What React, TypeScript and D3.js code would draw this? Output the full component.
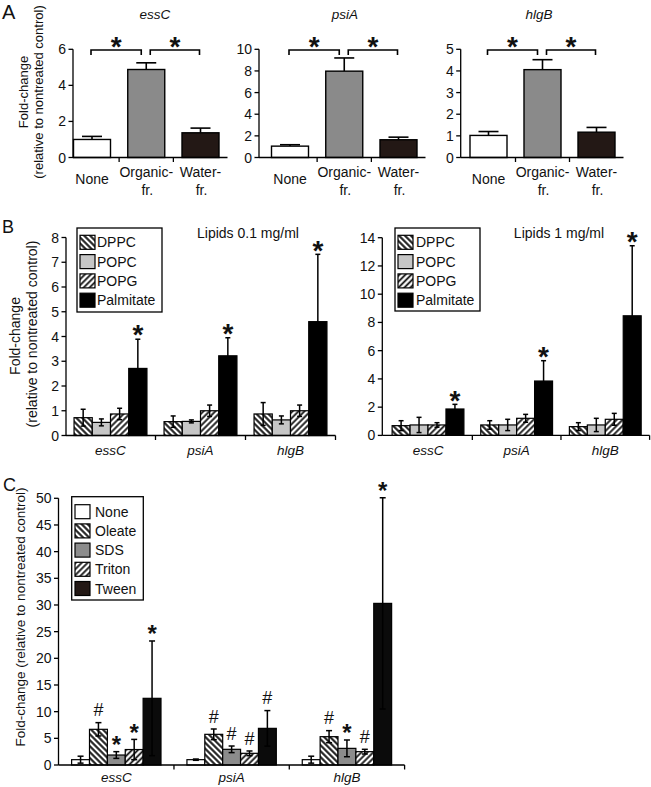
import React from 'react';
import * as d3 from 'd3';

const FONT = "'Liberation Sans', Arial, Helvetica, sans-serif";

// ---------------- Panel A data ----------------
const aCategories = ['None', 'Organic-fr.', 'Water-fr.'];
const aCategoryLines = [['None'], ['Organic-', 'fr.'], ['Water-', 'fr.']];
const aGenes = ['essC', 'psiA', 'hlgB'];
const aEssC = [1.0, 4.88, 1.37];
const aEssCErr = [0.17, 0.37, 0.26];
const aPsiA = [1.05, 7.98, 1.64];
const aPsiAErr = [0.13, 1.22, 0.24];
const aHlgB = [1.02, 4.06, 1.17];
const aHlgBErr = [0.18, 0.46, 0.22];
const aYMax = [6, 10, 5];
const aTickStep = [2, 2, 1];
const aSigMarks = ['*', '*'];

// ---------------- Panel B data ----------------
const bGenes = ['essC', 'psiA', 'hlgB'];
const bLipids = ['DPPC', 'POPC', 'POPG', 'Palmitate'];
// rows: genes; columns: DPPC, POPC, POPG, Palmitate
const bLowMeans = [
  [0.72, 0.53, 0.87, 2.71],
  [0.56, 0.57, 1.0, 3.22],
  [0.87, 0.63, 1.0, 4.6],
];
const bLowErrs = [
  [0.34, 0.14, 0.23, 1.18],
  [0.23, 0.06, 0.23, 0.73],
  [0.46, 0.16, 0.23, 2.72],
];
const bLowMarks = [
  ['', '', '', '*'],
  ['', '', '', '*'],
  ['', '', '', '*'],
];
const bHighMeans = [
  [0.69, 0.74, 0.74, 1.87],
  [0.74, 0.74, 1.21, 3.85],
  [0.62, 0.74, 1.14, 8.47],
];
const bHighErrs = [
  [0.35, 0.54, 0.16, 0.33],
  [0.3, 0.4, 0.28, 1.44],
  [0.28, 0.47, 0.42, 4.96],
];
const bHighMarks = [
  ['', '', '', '*'],
  ['', '', '', '*'],
  ['', '', '', '*'],
];
const bLowTitle = 'Lipids 0.1 mg/ml';
const bHighTitle = 'Lipids 1 mg/ml';
const bLowTicks = [0, 1, 2, 3, 4, 5, 6, 7, 8];
const bHighTicks = [0, 2, 4, 6, 8, 10, 12, 14];

// ---------------- Panel C data ----------------
const cGenes = ['essC', 'psiA', 'hlgB'];
const cTreatments = ['None', 'Oleate', 'SDS', 'Triton', 'Tween'];
// rows: genes; columns: None, Oleate, SDS, Triton, Tween
const cMeans = [
  [1.0, 6.69, 1.87, 2.9, 12.5],
  [1.0, 5.75, 2.94, 2.19, 6.87],
  [1.0, 5.31, 3.12, 2.5, 30.3],
];
const cErrs = [
  [0.65, 1.25, 0.63, 1.9, 10.75],
  [0.12, 1.0, 0.62, 0.44, 3.33],
  [0.65, 1.13, 1.57, 0.44, 19.8],
];
const cMarks = [
  ['', '#', '*', '*', '*'],
  ['', '#', '#', '#', '#'],
  ['', '#', '*', '#', '*'],
];
const cTicks = [0, 5, 10, 15, 20, 25, 30, 35, 40, 45, 50];

const yLabel1 = 'Fold-change';
const yLabel2 = '(relative to nontreated control)';

// ---------------- styles ----------------
const aFills = ['#ffffff', '#8a8a8a', '#231815'];
const bFills = ['url(#hatchBack)', '#c6c6c6', 'url(#hatchFwd)', '#000000'];
const cFills = ['#ffffff', 'url(#hatchBack)', '#8c8c8c', 'url(#hatchFwd)', '#0b0b0b'];
const cLegendFills = ['#ffffff', 'url(#hatchBack)', '#8c8c8c', 'url(#hatchFwd)', '#231815'];

function Mark({ x, y, text, star, hash }) {
  if (!text) return null;
  if (text === '*') {
    const fs = star;
    return (
      <text x={x} y={y + 0.58 * fs} textAnchor="middle" fontSize={fs} fontWeight="bold" fontFamily={FONT} fill="#111">
        *
      </text>
    );
  }
  const fs = hash;
  return (
    <text x={x} y={y + 0.35 * fs} textAnchor="middle" fontSize={fs} fontFamily={FONT} fill="#111">
      {text}
    </text>
  );
}

function YAxis({ x, y, ticks, fontSize = 14 }) {
  const [r0] = y.range();
  return (
    <g>
      <line x1={x} x2={x} y1={r0} y2={y(ticks[ticks.length - 1])} stroke="#000" strokeWidth={1.3} />
      {ticks.map((t) => (
        <g key={t}>
          <line x1={x - 4.5} x2={x} y1={y(t)} y2={y(t)} stroke="#000" strokeWidth={1.3} />
          <text x={x - 7} y={y(t)} dy="0.36em" textAnchor="end" fontSize={fontSize} fill="#111">
            {t}
          </text>
        </g>
      ))}
    </g>
  );
}

function PanelASub({ idx, values, errs, axisX, c0, c2, titleX }) {
  const yMax = aYMax[idx];
  const step = aTickStep[idx];
  const y = d3.scaleLinear().domain([0, yMax]).range([157.5, 49.3]);
  const x = d3.scalePoint().domain(aCategories).range([c0, c2]);
  const ticks = d3.range(0, yMax + step / 2, step);
  const bw = 37;
  const capW = 20;
  const xs = aCategories.map((c) => x(c));
  const axisEnd = xs[2] + 27;
  const brY = 50;
  const brackets = [
    [xs[0] - 1, xs[1] - 5],
    [xs[1] + 4, xs[2] - 1],
  ];
  return (
    <g>
      <text x={titleX} y={19} textAnchor="middle" fontSize={13.5} fontStyle="italic" fill="#111">
        {aGenes[idx]}
      </text>
      {aCategories.map((c, i) => {
        const cx = x(c);
        const top = y(values[i]);
        const et = y(values[i] + errs[i]);
        return (
          <g key={c}>
            <line x1={cx} x2={cx} y1={top} y2={et} stroke="#000" strokeWidth={1.6} />
            <line x1={cx - capW / 2} x2={cx + capW / 2} y1={et} y2={et} stroke="#000" strokeWidth={1.6} />
            <rect x={cx - bw / 2} y={top} width={bw} height={y(0) - top} fill={aFills[i]} stroke="#000" strokeWidth={1.4} />
          </g>
        );
      })}
      <line x1={axisX} x2={axisEnd} y1={y(0)} y2={y(0)} stroke="#000" strokeWidth={1.3} />
      {[0, 1].map((i) => {
        const tx = (xs[i] + xs[i + 1]) / 2;
        return <line key={i} x1={tx} x2={tx} y1={y(0)} y2={y(0) + 4.5} stroke="#000" strokeWidth={1.3} />;
      })}
      <YAxis x={axisX} y={y} ticks={ticks} />
      {aCategoryLines.map((lines, i) =>
        lines.length === 1 ? (
          <text key={i} x={xs[i]} y={184} textAnchor="middle" fontSize={14} fill="#111">
            {lines[0]}
          </text>
        ) : (
          <g key={i}>
            <text x={xs[i]} y={176.5} textAnchor="middle" fontSize={14} fill="#111">
              {lines[0]}
            </text>
            <text x={xs[i] + 1} y={195} textAnchor="middle" fontSize={14} fill="#111">
              {lines[1]}
            </text>
          </g>
        )
      )}
      {brackets.map(([a, b], i) => (
        <g key={i}>
          <path d={`M${a},${brY + 5}V${brY}H${b}V${brY + 5}`} fill="none" stroke="#000" strokeWidth={1.6} />
          <Mark x={(a + b) / 2} y={brY - 10} text={aSigMarks[i]} star={28} hash={18} />
        </g>
      ))}
    </g>
  );
}

function Legend({ x, y, w, h, items, fills, swX, textX, row0, rowStep, swW = 15, swH = 14 }) {
  return (
    <g>
      <rect x={x} y={y} width={w} height={h} fill="#fff" stroke="#000" strokeWidth={1.3} />
      {items.map((it, i) => {
        const cy = row0 + i * rowStep;
        return (
          <g key={it}>
            <rect x={swX} y={cy - swH / 2} width={swW} height={swH} fill={fills[i]} stroke="#000" strokeWidth={1.2} />
            <text x={textX} y={cy} dy="0.36em" fontSize={14} fill="#111">
              {it}
            </text>
          </g>
        );
      })}
    </g>
  );
}

function Grouped({ genes, series, means, errs, marks, fills, xRange, inner, outer, axisX, y0, yTopPx, yMax, ticks, capW, labelY, star, hash, markGap }) {
  const x0 = d3.scaleBand().domain(genes).range(xRange).paddingInner(inner).paddingOuter(outer);
  const x1 = d3.scaleBand().domain(series).range([0, x0.bandwidth()]);
  const y = d3.scaleLinear().domain([0, yMax]).range([y0, yTopPx]);
  const stepW = x0.step();
  const start = xRange[0];
  const end = xRange[1];
  return (
    <g>
      {genes.map((g, gi) => (
        <g key={g}>
          {series.map((s, si) => {
            const bx = x0(g) + x1(s);
            const bwid = x1.bandwidth();
            const cx = bx + bwid / 2;
            const v = means[gi][si];
            const e = errs[gi][si];
            const top = y(v);
            const et = y(v + e);
            const eb = y(Math.max(0, v - e));
            return (
              <g key={s}>
                <rect x={bx} y={top} width={bwid} height={y(0) - top} fill={fills[si]} stroke="#000" strokeWidth={1.2} />
                <line x1={cx} x2={cx} y1={eb} y2={et} stroke="#000" strokeWidth={1.5} />
                <line x1={cx - capW / 2} x2={cx + capW / 2} y1={et} y2={et} stroke="#000" strokeWidth={1.5} />
                <line x1={cx - capW / 2} x2={cx + capW / 2} y1={eb} y2={eb} stroke="#000" strokeWidth={1.5} />
                <Mark x={cx} y={et - markGap} text={marks[gi][si]} star={star} hash={hash} />
              </g>
            );
          })}
          <text x={x0(g) + x0.bandwidth() / 2} y={labelY} textAnchor="middle" fontSize={13.5} fontStyle="italic" fill="#111">
            {g}
          </text>
        </g>
      ))}
      <line x1={axisX} x2={end} y1={y(0)} y2={y(0)} stroke="#000" strokeWidth={1.3} />
      {[1, 2, 3].map((i) => {
        const tx = start + i * stepW;
        return <line key={i} x1={tx} x2={tx} y1={y(0)} y2={y(0) + 4.5} stroke="#000" strokeWidth={1.3} />;
      })}
      <YAxis x={axisX} y={y} ticks={ticks} />
    </g>
  );
}

function RotLabel({ x, y, text, fontSize }) {
  return (
    <text transform={`translate(${x},${y}) rotate(-90)`} textAnchor="middle" dy="0.36em" fontSize={fontSize} fill="#111">
      {text}
    </text>
  );
}

export default function App() {
  return (
    <svg width={651} height={787} style={{ position: 'absolute', left: 0, top: 0, background: '#fff' }} fontFamily={FONT}>
      <defs>
        <pattern id="hatchBack" patternUnits="userSpaceOnUse" width={4.2} height={4.2} patternTransform="rotate(-45)">
          <rect width={4.2} height={4.2} fill="#fff" />
          <line x1={2.1} x2={2.1} y1={0} y2={4.2} stroke="#111" strokeWidth={2} />
        </pattern>
        <pattern id="hatchFwd" patternUnits="userSpaceOnUse" width={4.2} height={4.2} patternTransform="rotate(45)">
          <rect width={4.2} height={4.2} fill="#fff" />
          <line x1={2.1} x2={2.1} y1={0} y2={4.2} stroke="#111" strokeWidth={1.8} />
        </pattern>
      </defs>
      <rect width={651} height={787} fill="#fff" />

      {/* Panel A */}
      <text x={2} y={19} fontSize={20} fill="#111">A</text>
      <RotLabel x={23} y={92} text={yLabel1} fontSize={13} />
      <RotLabel x={38} y={92} text={yLabel2} fontSize={13} />
      <PanelASub idx={0} values={aEssC} errs={aEssCErr} axisX={73} c0={92} c2={200.5} titleX={155} />
      <PanelASub idx={1} values={aPsiA} errs={aPsiAErr} axisX={259} c0={290} c2={398.5} titleX={345} />
      <PanelASub idx={2} values={aHlgB} errs={aHlgBErr} axisX={460.7} c0={488.5} c2={596.5} titleX={539} />

      {/* Panel B */}
      <text x={2} y={233} fontSize={18} fill="#111">B</text>
      <RotLabel x={15} y={336} text={yLabel1} fontSize={14} />
      <RotLabel x={32} y={334} text={yLabel2} fontSize={14} />
      <Grouped
        genes={bGenes}
        series={bLipids}
        means={bLowMeans}
        errs={bLowErrs}
        marks={bLowMarks}
        fills={bFills}
        xRange={[65.5, 335.5]}
        inner={0.19}
        outer={0.095}
        axisX={66}
        y0={435.5}
        yTopPx={237.5}
        yMax={8}
        ticks={bLowTicks}
        capW={5}
        labelY={455}
        star={28}
        hash={18}
        markGap={11}
      />
      <text x={248} y={238} textAnchor="middle" fontSize={14} fill="#111">{bLowTitle}</text>
      <Legend x={77} y={228} w={85} h={84} items={bLipids} fills={bFills} swX={80} textX={97} row0={242.3} rowStep={19.3} />

      <Grouped
        genes={bGenes}
        series={bLipids}
        means={bHighMeans}
        errs={bHighErrs}
        marks={bHighMarks}
        fills={bFills}
        xRange={[383.7, 649.6]}
        inner={0.19}
        outer={0.095}
        axisX={382.3}
        y0={435.4}
        yTopPx={237.7}
        yMax={14}
        ticks={bHighTicks}
        capW={5}
        labelY={455}
        star={28}
        hash={18}
        markGap={11}
      />
      <text x={559} y={238} textAnchor="middle" fontSize={14} fill="#111">{bHighTitle}</text>
      <Legend x={395} y={228} w={85} h={83} items={bLipids} fills={bFills} swX={398} textX={416} row0={242.3} rowStep={19.3} />

      {/* Panel C */}
      <text x={3} y={491} fontSize={18} fill="#111">C</text>
      <RotLabel x={20} y={617} text={`${yLabel1} ${yLabel2}`} fontSize={13.5} />
      <Grouped
        genes={cGenes}
        series={cTreatments}
        means={cMeans}
        errs={cErrs}
        marks={cMarks}
        fills={cFills}
        xRange={[58.65, 404.6]}
        inner={0.225}
        outer={0.1125}
        axisX={58.5}
        y0={765}
        yTopPx={498.3}
        yMax={50}
        ticks={cTicks}
        capW={6}
        labelY={782}
        star={24}
        hash={18}
        markGap={12.5}
      />
      <Legend x={71.7} y={496.7} w={71.6} h={103.3} items={cTreatments} fills={cLegendFills} swX={75} textX={95} row0={511.7} rowStep={19.2} />
    </svg>
  );
}
